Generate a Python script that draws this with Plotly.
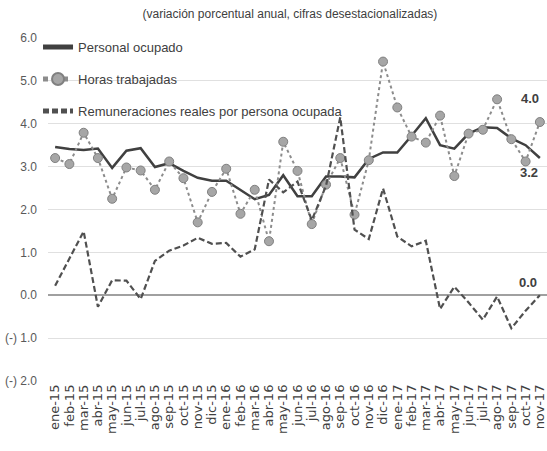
import plotly.graph_objects as go

months = ["ene-15","feb-15","mar-15","abr-15","may-15","jun-15","jul-15","ago-15","sep-15","oct-15","nov-15","dic-15",
          "ene-16","feb-16","mar-16","abr-16","may-16","jun-16","jul-16","ago-16","sep-16","oct-16","nov-16","dic-16",
          "ene-17","feb-17","mar-17","abr-17","may-17","jun-17","jul-17","ago-17","sep-17","oct-17","nov-17"]

personal = [3.46, 3.41, 3.39, 3.42, 2.97, 3.37, 3.43, 2.99, 3.08, 2.90, 2.74, 2.67,
            2.67, 2.45, 2.24, 2.34, 2.80, 2.31, 2.31, 2.77, 2.77, 2.75, 3.18, 3.33,
            3.33, 3.72, 4.13, 3.50, 3.42, 3.77, 3.92, 3.90, 3.66, 3.50, 3.20]

horas = [3.20, 3.06, 3.79, 3.20, 2.25, 2.98, 2.91, 2.46, 3.12, 2.73, 1.70, 2.41,
         2.95, 1.90, 2.46, 1.26, 3.58, 2.90, 1.66, 2.58, 3.20, 1.88, 3.15, 5.45,
         4.38, 3.70, 3.56, 4.19, 2.78, 3.77, 3.86, 4.57, 3.64, 3.12, 4.04]

remun = [0.22, 0.84, 1.49, -0.27, 0.35, 0.34, -0.09, 0.80, 1.04, 1.16, 1.34, 1.20,
         1.22, 0.90, 1.07, 2.70, 2.40, 2.65, 1.75, 2.55, 4.15, 1.53, 1.31, 2.49,
         1.37, 1.14, 1.27, -0.32, 0.20, -0.17, -0.57, -0.03, -0.77, -0.36, 0.00]

tick_vals = [-2, -1, 0, 1, 2, 3, 4, 5, 6]
tick_text = ["(-) 2.0", "(-) 1.0", "0.0", "1.0", "2.0", "3.0", "4.0", "5.0", "6.0"]

title_text = "(variación porcentual anual, cifras desestacionalizadas)"
names = ["Personal ocupado", "Horas trabajadas", "Remuneraciones reales por persona ocupada"]

FONT = "Liberation Sans Narrow, Arial Narrow, Liberation Sans, Arial, sans-serif"

fig = go.Figure()
fig.add_trace(go.Scatter(x=months, y=personal, name=names[0], mode="lines",
                         line=dict(color="#404040", width=2.5), legendgroup="a"))
fig.add_trace(go.Scatter(x=months, y=horas, name=names[1], mode="lines+markers",
                         line=dict(color="#8c8c8c", width=2, dash="dot"),
                         marker=dict(symbol="circle", size=9, color="#a6a6a6",
                                     line=dict(color="#808080", width=1)),
                         legendgroup="b"))
fig.add_trace(go.Scatter(x=months, y=remun, name=names[2], mode="lines",
                         line=dict(color="#505050", width=2.2, dash="6px,3px"), legendgroup="c"))

ann_font = dict(family=FONT, size=13, color="#404040")
fig.add_annotation(x=months[-1], y=horas[-1], text="<b>%.1f</b>" % horas[-1], showarrow=False,
                   xshift=-10, yshift=24, font=ann_font)
fig.add_annotation(x=months[-1], y=personal[-1], text="<b>%.1f</b>" % personal[-1], showarrow=False,
                   xshift=-11, yshift=-14, font=ann_font)
fig.add_annotation(x=months[-1], y=remun[-1], text="<b>%.1f</b>" % remun[-1], showarrow=False,
                   xshift=-12, yshift=13, font=ann_font)

fig.update_layout(
    width=547, height=451,
    margin=dict(l=48, r=0, t=38, b=70),
    paper_bgcolor="white", plot_bgcolor="white",
    title=dict(text=title_text, x=0.53, xanchor="center", y=0.97, yanchor="middle",
               font=dict(family=FONT, size=12, color="#404040")),
    showlegend=True,
    legend=dict(x=-0.02, y=1.017, xanchor="left", yanchor="top",
                font=dict(family=FONT, size=13, color="#404040"),
                bgcolor="rgba(0,0,0,0)", tracegroupgap=12, itemsizing="constant"),
    xaxis=dict(type="category", categoryorder="array", categoryarray=months,
               range=[-0.5, len(months) - 0.5],
               tickmode="array", tickvals=months, ticktext=months,
               tickangle=-90, tickfont=dict(family="DejaVu Sans", size=13, color="#404040"),
               showgrid=False, showline=False, ticks="", zeroline=False),
    yaxis=dict(range=[-2, 6], tickvals=tick_vals, ticktext=tick_text,
               tickfont=dict(family=FONT, size=12, color="#595959"),
               showgrid=True, gridcolor="#e0e0e0", gridwidth=1,
               zeroline=True, zerolinecolor="#a0a0a0", zerolinewidth=1.5,
               showline=False, ticks="", ticklabelstandoff=10),
)

fig.write_html("out.html", config={"displayModeBar": False},
               post_script="document.body.style.margin='0';")
